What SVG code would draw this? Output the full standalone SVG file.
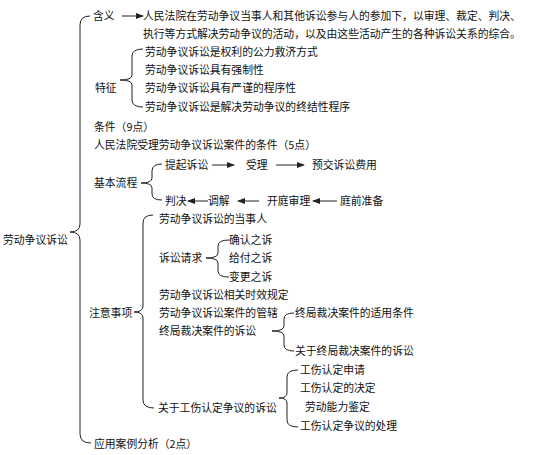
<svg xmlns="http://www.w3.org/2000/svg" width="543" height="455" viewBox="0 0 543 455">
<style>
text{font-family:"Noto Sans CJK SC","Liberation Sans",sans-serif;font-size:10.8px;fill:#111}
.br{fill:none;stroke:#222;stroke-width:1}
.ar{fill:none;stroke:#222;stroke-width:1;marker-end:url(#ah)}
</style>
<defs>
<marker id="ah" markerWidth="8" markerHeight="6" refX="7" refY="3" orient="auto" markerUnits="userSpaceOnUse">
<path d="M0,0 L8,3 L0,6 Z" fill="#222"/>
</marker>
</defs>
<rect width="543" height="455" fill="#fff"/>
<g id="connectors">
<path class="br" d="M 90 16 Q 80 16 80 25 L 80 224 Q 80 232 70 232 Q 80 232 80 240 L 80 434 Q 80 443 91 443"/>
<path class="br" d="M 143 49 Q 132 49 132 56 L 132 75 Q 132 80 120 80 Q 132 80 132 85 L 132 100 Q 132 107 143 107"/>
<path class="br" d="M 162 164 Q 152 164 152 171 L 152 178 Q 152 183 141 183 Q 152 183 152 188 L 152 194 Q 152 200 162 200"/>
<path class="br" d="M 153 215 Q 143 215 143 223 L 143 306 Q 143 312 134 312 Q 143 312 143 318 L 143 400 Q 143 408 154 408"/>
<path class="br" d="M 229 240 Q 218 240 218 246 L 218 253 Q 218 258 206 258 Q 218 258 218 263 L 218 271 Q 218 277 229 277"/>
<path class="br" d="M 294 313 Q 284 313 284 319 L 284 326 Q 284 331 272 331 Q 284 331 284 336 L 284 345 Q 284 351 294 351"/>
<path class="br" d="M 298 370 Q 287 370 287 377 L 287 393 Q 287 398 279 398 Q 287 398 287 403 L 287 420 Q 287 427 298 427"/>
<line class="ar" x1="122" y1="16" x2="143" y2="16"/>
<line class="ar" x1="212" y1="165" x2="234" y2="165"/>
<line class="ar" x1="276" y1="165" x2="304" y2="165"/>
<line class="ar" x1="208" y1="201" x2="188" y2="201"/>
<line class="ar" x1="259" y1="201" x2="238" y2="201"/>
<line class="ar" x1="337" y1="201" x2="313" y2="201"/>
</g>
<g id="root"><text x="3" y="244">劳动争议诉讼</text></g>
<g id="hanyi"><text x="93" y="20">含义</text></g>
<g id="hanyi-def"><text x="143" y="20">人民法院在劳动争议当事人和其他诉讼参与人的参加下，以审理、裁定、判决、</text><text x="143" y="38">执行等方式解决劳动争议的活动，以及由这些活动产生的各种诉讼关系的综合。</text></g>
<g id="tezheng"><text x="95" y="92">特征</text></g>
<g id="tz1"><text x="145" y="56">劳动争议诉讼是权利的公力救济方式</text></g>
<g id="tz2"><text x="145" y="74">劳动争议诉讼具有强制性</text></g>
<g id="tz3"><text x="145" y="92">劳动争议诉讼具有严谨的程序性</text></g>
<g id="tz4"><text x="145" y="111">劳动争议诉讼是解决劳动争议的终结性程序</text></g>
<g id="tiaojian"><text x="94" y="131">条件（9点）</text></g>
<g id="shouli-tiaojian"><text x="94" y="149">人民法院受理劳动争议诉讼案件的条件（5点）</text></g>
<g id="liucheng"><text x="94" y="187">基本流程</text></g>
<g id="qisu"><text x="165" y="169">提起诉讼</text></g>
<g id="shouli"><text x="246" y="169">受理</text></g>
<g id="yujiao"><text x="312" y="169">预交诉讼费用</text></g>
<g id="panjue"><text x="165" y="205">判决</text></g>
<g id="tiaojie"><text x="208" y="205">调解</text></g>
<g id="kaiting"><text x="267" y="205">开庭审理</text></g>
<g id="tingqian"><text x="340" y="205">庭前准备</text></g>
<g id="zhuyi"><text x="89" y="317">注意事项</text></g>
<g id="dangshiren"><text x="159" y="223">劳动争议诉讼的当事人</text></g>
<g id="qingqiu"><text x="159" y="262">诉讼请求</text></g>
<g id="queren"><text x="229" y="244">确认之诉</text></g>
<g id="geifu"><text x="229" y="262">给付之诉</text></g>
<g id="biangeng"><text x="229" y="281">变更之诉</text></g>
<g id="shixiao"><text x="159" y="299">劳动争议诉讼相关时效规定</text></g>
<g id="guanxia"><text x="159" y="317">劳动争议诉讼案件的管辖</text></g>
<g id="zhongju"><text x="159" y="335">终局裁决案件的诉讼</text></g>
<g id="shiyong"><text x="295" y="317">终局裁决案件的适用条件</text></g>
<g id="guanyu-zhongju"><text x="295" y="355">关于终局裁决案件的诉讼</text></g>
<g id="gongshang"><text x="158" y="412">关于工伤认定争议的诉讼</text></g>
<g id="gs1"><text x="300" y="374">工伤认定申请</text></g>
<g id="gs2"><text x="300" y="392">工伤认定的决定</text></g>
<g id="gs3"><text x="305" y="411">劳动能力鉴定</text></g>
<g id="gs4"><text x="300" y="430">工伤认定争议的处理</text></g>
<g id="anli"><text x="94" y="448">应用案例分析（2点）</text></g>
</svg>
